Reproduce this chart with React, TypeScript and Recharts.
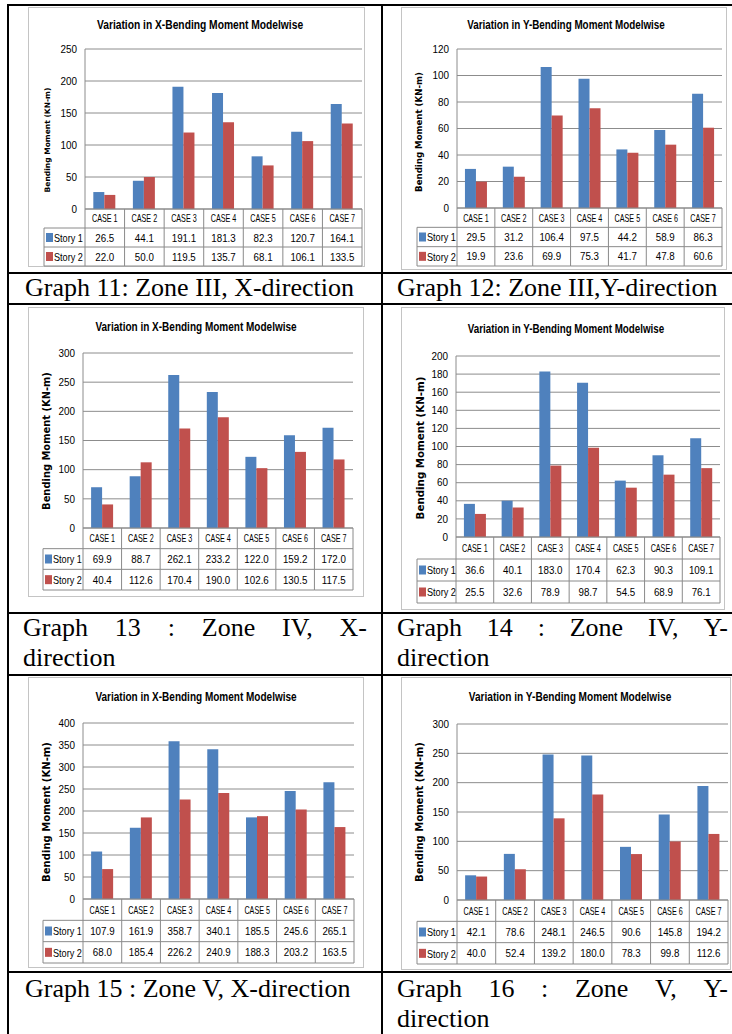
import React from 'react';
import { BarChart, Bar, XAxis, YAxis, CartesianGrid } from 'recharts';

const CATEGORIES = ['CASE 1', 'CASE 2', 'CASE 3', 'CASE 4', 'CASE 5', 'CASE 6', 'CASE 7'];
const SERIES_NAMES = ['Story 1', 'Story 2'];

const G11_STORY1 = [26.5, 44.1, 191.1, 181.3, 82.3, 120.7, 164.1];
const G11_STORY2 = [22.0, 50.0, 119.5, 135.7, 68.1, 106.1, 133.5];
const G11_TICKS = [0, 50, 100, 150, 200, 250];

const G12_STORY1 = [29.5, 31.2, 106.4, 97.5, 44.2, 58.9, 86.3];
const G12_STORY2 = [19.9, 23.6, 69.9, 75.3, 41.7, 47.8, 60.6];
const G12_TICKS = [0, 20, 40, 60, 80, 100, 120];

const G13_STORY1 = [69.9, 88.7, 262.1, 233.2, 122.0, 159.2, 172.0];
const G13_STORY2 = [40.4, 112.6, 170.4, 190.0, 102.6, 130.5, 117.5];
const G13_TICKS = [0, 50, 100, 150, 200, 250, 300];

const G14_STORY1 = [36.6, 40.1, 183.0, 170.4, 62.3, 90.3, 109.1];
const G14_STORY2 = [25.5, 32.6, 78.9, 98.7, 54.5, 68.9, 76.1];
const G14_TICKS = [0, 20, 40, 60, 80, 100, 120, 140, 160, 180, 200];

const G15_STORY1 = [107.9, 161.9, 358.7, 340.1, 185.5, 245.6, 265.1];
const G15_STORY2 = [68.0, 185.4, 226.2, 240.9, 188.3, 203.2, 163.5];
const G15_TICKS = [0, 50, 100, 150, 200, 250, 300, 350, 400];

const G16_STORY1 = [42.1, 78.6, 248.1, 246.5, 90.6, 145.8, 194.2];
const G16_STORY2 = [40.0, 52.4, 139.2, 180.0, 78.3, 99.8, 112.6];
const G16_TICKS = [0, 50, 100, 150, 200, 250, 300];

const TITLE_X = 'Variation in X-Bending Moment Modelwise';
const TITLE_Y = 'Variation in Y-Bending Moment Modelwise';
const Y_LABEL = 'Bending Moment (KN-m)';

const CAPTION_11 = 'Graph 11: Zone III, X-direction';
const CAPTION_12 = 'Graph 12: Zone III,Y-direction';
const CAPTION_13_L1 = ['Graph', '13', ':', 'Zone', 'IV,', 'X-'];
const CAPTION_14_L1 = ['Graph', '14', ':', 'Zone', 'IV,', 'Y-'];
const CAPTION_15 = 'Graph 15 : Zone V, X-direction';
const CAPTION_16_L1 = ['Graph', '16', ':', 'Zone', 'V,', 'Y-'];
const CAPTION_L2 = 'direction';

const BLUE = '#4F81BD';
const RED = '#C0504D';
const GRID = '#8c8c8c';
const TABLE_LINE = '#8a8a8a';
const SANS = '"Liberation Sans", Arial, sans-serif';
const SERIF = '"Liberation Serif", "Times New Roman", serif';

type PanelCfg = {
  left: number; top: number; w: number; h: number;
  pl: number; pr: number; pt: number; plotBottom: number; tableBottom: number;
  legendLeft: number;
  title: string; titleX: number; titleY: number; titleLen: number;
  labelX: number; labelY: number; labelLen: number;
  s1: number[]; s2: number[]; ticks: number[];
};

const PANELS: PanelCfg[] = [
  { left: 28, top: 7, w: 337, h: 260, pl: 57, pr: 3, pt: 42, plotBottom: 202, tableBottom: 259, legendLeft: 16,
    title: TITLE_X, titleX: 172, titleY: 18, titleLen: 207, labelX: 19, labelY: 133, labelLen: 105,
    s1: G11_STORY1, s2: G11_STORY2, ticks: G11_TICKS },
  { left: 401, top: 7, w: 326, h: 263, pl: 56, pr: 5, pt: 42, plotBottom: 201, tableBottom: 259, legendLeft: 16,
    title: TITLE_Y, titleX: 165, titleY: 18, titleLen: 199, labelX: 18, labelY: 125, labelLen: 120,
    s1: G12_STORY1, s2: G12_STORY2, ticks: G12_TICKS },
  { left: 28, top: 307, w: 336, h: 290, pl: 55, pr: 11, pt: 46, plotBottom: 221, tableBottom: 283, legendLeft: 15,
    title: TITLE_X, titleX: 168, titleY: 20, titleLen: 202, labelX: 18.5, labelY: 134, labelLen: 138,
    s1: G13_STORY1, s2: G13_STORY2, ticks: G13_TICKS },
  { left: 401, top: 307, w: 324, h: 303, pl: 55, pr: 5, pt: 49, plotBottom: 230, tableBottom: 296, legendLeft: 16,
    title: TITLE_Y, titleX: 165, titleY: 21.5, titleLen: 198, labelX: 18.5, labelY: 141, labelLen: 143,
    s1: G14_STORY1, s2: G14_STORY2, ticks: G14_TICKS },
  { left: 28, top: 677, w: 336, h: 291, pl: 55, pr: 10, pt: 46, plotBottom: 222, tableBottom: 286, legendLeft: 15,
    title: TITLE_X, titleX: 168, titleY: 20, titleLen: 202, labelX: 18.5, labelY: 135, labelLen: 140,
    s1: G15_STORY1, s2: G15_STORY2, ticks: G15_TICKS },
  { left: 401, top: 677, w: 330, h: 293, pl: 56, pr: 3, pt: 47, plotBottom: 223, tableBottom: 287, legendLeft: 16,
    title: TITLE_Y, titleX: 169, titleY: 20, titleLen: 204, labelX: 18.5, labelY: 135, labelLen: 140,
    s1: G16_STORY1, s2: G16_STORY2, ticks: G16_TICKS },
];

function SText({ x, y, sx, anchor = 'middle', size, weight = 'normal', family = SANS, text }:
  { x: number; y: number; sx: number; anchor?: string; size: number; weight?: string; family?: string; text: string }) {
  return (
    <g transform={`translate(${x} ${y}) scale(${sx} 1)`}>
      <text x={0} y={0} textAnchor={anchor as any} dominantBaseline="central" fontSize={size} fontWeight={weight} fontFamily={family} fill="#000">
        {text}
      </text>
    </g>
  );
}

function Panel({ cfg }: { cfg: PanelCfg }) {
  const { left, top, w, h, pl, pr, pt, plotBottom, tableBottom, legendLeft, s1, s2, ticks } = cfg;
  const data = CATEGORIES.map((c, i) => ({ name: c, s1: s1[i], s2: s2[i] }));
  const tableH = tableBottom - plotBottom;
  const pb = h - tableBottom;
  const plotW = w - pl - pr;
  const n = CATEGORIES.length;
  const bw = plotW / n;
  const rowH = tableH / 3;
  const y0 = plotBottom;
  const series = [s1, s2];

  const renderXTick = (props: any) => {
    const idx: number = props.index ?? (props.payload ? props.payload.index : 0);
    const cx: number = props.payload && props.payload.coordinate != null ? props.payload.coordinate : props.x;
    const x0 = cx - bw / 2;
    const x1 = cx + bw / 2;
    const els: any[] = [];
    els.push(<line key="v0" x1={x0} x2={x0} y1={y0} y2={y0 + tableH} stroke={TABLE_LINE} />);
    if (idx === n - 1) els.push(<line key="v1" x1={x1} x2={x1} y1={y0} y2={y0 + tableH} stroke={TABLE_LINE} />);
    for (let r = 1; r <= 3; r++) {
      els.push(<line key={'h' + r} x1={x0} x2={x1} y1={y0 + rowH * r} y2={y0 + rowH * r} stroke={TABLE_LINE} />);
    }
    els.push(<SText key="cat" x={cx} y={y0 + rowH / 2 + 0.5} sx={0.72} size={10} text={String(props.payload.value)} />);
    series.forEach((s, k) => {
      els.push(<SText key={'v' + k} x={cx} y={y0 + rowH * (k + 1.5) + 0.5} sx={0.93} size={10.5} text={s[idx].toFixed(1)} />);
    });
    if (idx === 0) {
      els.push(<line key="lv" x1={legendLeft} x2={legendLeft} y1={y0 + rowH} y2={y0 + tableH} stroke={TABLE_LINE} />);
      for (let r = 1; r <= 3; r++) {
        els.push(<line key={'lh' + r} x1={legendLeft} x2={x0} y1={y0 + rowH * r} y2={y0 + rowH * r} stroke={TABLE_LINE} />);
      }
      SERIES_NAMES.forEach((nm, k) => {
        const cy = y0 + rowH * (k + 1.5);
        els.push(<rect key={'m' + k} x={legendLeft + 2} y={cy - 4.5} width={7} height={9} fill={k === 0 ? BLUE : RED} />);
        els.push(<SText key={'n' + k} x={legendLeft + 10} y={cy + 0.5} sx={0.87} size={10.5} anchor="start" text={nm} />);
      });
    }
    return <g>{els}</g>;
  };

  const renderYTick = (props: any) => (
    <SText x={props.x} y={props.y} sx={0.9} size={11} anchor="end" text={String(props.payload.value)} />
  );

  const labelSize = cfg.labelLen / 13.91;

  return (
    <div style={{ position: 'absolute', left, top, width: w, height: h }}>
      <div style={{ position: 'absolute', left: 0, top: 0, width: w, height: h, border: '1px solid #c4c4c4', boxSizing: 'border-box', background: '#fff' }} />
      <div style={{ position: 'absolute', left: 0, top: 0 }}>
        <BarChart width={w} height={h} data={data} margin={{ top: pt, right: pr, bottom: pb, left: 0 }} barCategoryGap="21%" barGap={0}>
          <CartesianGrid vertical={false} stroke={GRID} />
          <XAxis dataKey="name" height={tableH} interval={0} tickLine={false} axisLine={{ stroke: TABLE_LINE }} tick={renderXTick} />
          <YAxis
            width={pl}
            domain={[0, ticks[ticks.length - 1]]}
            ticks={ticks}
            interval={0}
            tickLine={false}
            axisLine={{ stroke: GRID }}
            tick={renderYTick}
          />
          <Bar dataKey="s1" name={SERIES_NAMES[0]} fill={BLUE} isAnimationActive={false} />
          <Bar dataKey="s2" name={SERIES_NAMES[1]} fill={RED} isAnimationActive={false} />
        </BarChart>
      </div>
      <svg width={w} height={h} style={{ position: 'absolute', left: 0, top: 0, pointerEvents: 'none' }}>
        <SText x={cfg.titleX} y={cfg.titleY} sx={cfg.titleLen / (20.17 * 12.5)} size={12.5} weight="bold" text={cfg.title} />
        <g transform={`translate(${cfg.labelX} ${cfg.labelY}) rotate(-90)`}>
          <text x={0} y={0} textAnchor="middle" dominantBaseline="central" fontSize={labelSize} fontWeight="bold"
            fontFamily='"DejaVu Sans", Verdana, sans-serif' fill="#000">
            {Y_LABEL}
          </text>
        </g>
      </svg>
    </div>
  );
}

const HLINES = [4, 272, 303, 612, 674, 971];

function JustLine({ left, top, width, words }: { left: number; top: number; width: number; words: string[] }) {
  return (
    <div style={{ position: 'absolute', left, top, width, height: 30, display: 'flex', justifyContent: 'space-between', fontFamily: SERIF, fontSize: 26, lineHeight: '30px', whiteSpace: 'pre', color: '#000' }}>
      {words.map((wd, i) => <span key={i}>{wd}</span>)}
    </div>
  );
}

function Caption({ left, top, text }: { left: number; top: number; text: string }) {
  return (
    <div style={{ position: 'absolute', left, top, fontFamily: SERIF, fontSize: 26, lineHeight: '30px', whiteSpace: 'pre', color: '#000' }}>
      {text}
    </div>
  );
}

export default function App() {
  return (
    <div style={{ position: 'absolute', left: 0, top: 0, width: 732, height: 1034, background: '#fff', overflow: 'hidden' }}>
      {HLINES.map((y, i) => (
        <div key={'hl' + i} style={{ position: 'absolute', left: 7, top: y, width: 725, height: 2, background: '#000' }} />
      ))}
      <div style={{ position: 'absolute', left: 7, top: 4, width: 2, height: 1030, background: '#000' }} />
      <div style={{ position: 'absolute', left: 381, top: 4, width: 2, height: 1030, background: '#000' }} />
      {PANELS.map((p, i) => <Panel key={i} cfg={p} />)}
      <Caption left={25} top={273} text={CAPTION_11} />
      <Caption left={397} top={273} text={CAPTION_12} />
      <JustLine left={23} top={613} width={344} words={CAPTION_13_L1} />
      <Caption left={23} top={643} text={CAPTION_L2} />
      <JustLine left={397} top={613} width={331} words={CAPTION_14_L1} />
      <Caption left={397} top={643} text={CAPTION_L2} />
      <Caption left={25} top={974} text={CAPTION_15} />
      <JustLine left={397} top={974} width={331} words={CAPTION_16_L1} />
      <Caption left={397} top={1004} text={CAPTION_L2} />
    </div>
  );
}
